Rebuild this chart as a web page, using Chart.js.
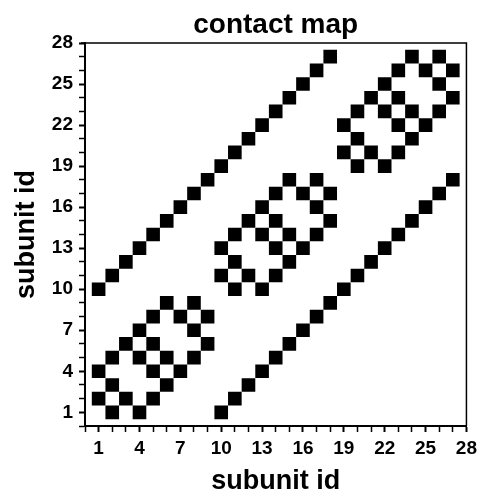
<!DOCTYPE html>
<html>
<head>
<meta charset="utf-8">
<script src="https://cdn.jsdelivr.net/npm/chart.js@4.4.0/dist/chart.umd.min.js"></script>
<style>
  html, body { margin: 0; padding: 0; background: #fff; }
  canvas { display: block; }
</style>
</head>
<body>
<canvas id="contactMap" width="482" height="495"></canvas>
<script>
// contacting subunit pairs (i < j); the map is symmetric so each pair is drawn both ways
const contactI = [
  1, 2, 3, 4, 5, 6, 7, 8, 9, 10, 11, 12, 13, 14, 15, 16, 17, 18,
  1, 1, 2, 2, 3, 4, 4, 5, 5, 6, 7, 8,
  10, 10, 11, 11, 12, 13, 13, 14, 14, 15, 16, 17,
  19, 19, 20, 20, 21, 22, 22, 23, 23, 24, 25, 26
];
const contactJ = [
  10, 11, 12, 13, 14, 15, 16, 17, 18, 19, 20, 21, 22, 23, 24, 25, 26, 27,
  2, 4, 3, 5, 6, 5, 7, 6, 8, 9, 8, 9,
  11, 13, 12, 14, 15, 14, 16, 15, 17, 18, 17, 18,
  20, 22, 21, 23, 24, 23, 25, 24, 26, 27, 26, 27
];
const tickLabels = [1, 4, 7, 10, 13, 16, 19, 22, 25, 28];
const axisMin = 0;
const axisMax = 28;

const FONT = '"Liberation Sans", Arial, Helvetica, sans-serif';
Chart.defaults.font.family = FONT;
Chart.defaults.color = '#000';

const points = [];
contactI.forEach((i, k) => {
  points.push({ x: i, y: contactJ[k] });
  points.push({ x: contactJ[k], y: i });
});

// one cell = one unit on the x scale; rect side = radius * sqrt(2)
const cellRadius = (ctx) => {
  const xs = ctx.chart.scales.x;
  if (!xs) return 9;
  return Math.abs(xs.getPixelForValue(1) - xs.getPixelForValue(0)) / Math.SQRT2;
};

// top/right frame lines and the centred title
const framePlugin = {
  id: 'frame',
  afterDraw(chart) {
    const { ctx, chartArea: a } = chart;
    ctx.save();
    ctx.strokeStyle = '#000';
    ctx.lineWidth = 1.5;
    ctx.beginPath();
    ctx.moveTo(a.left - 4, a.top);
    ctx.lineTo(a.right, a.top);
    ctx.lineTo(a.right, a.bottom);
    ctx.stroke();
    ctx.fillStyle = '#000';
    ctx.font = 'bold 28px ' + FONT;
    ctx.textAlign = 'center';
    ctx.textBaseline = 'alphabetic';
    ctx.fillText('contact map', (a.left + a.right) / 2, 33);
    ctx.restore();
  }
};

const axisOptions = (fitSize, horizontal) => ({
  type: 'linear',
  min: axisMin,
  max: axisMax,
  ticks: {
    stepSize: 1,
    autoSkip: false,
    maxRotation: 0,
    padding: horizontal ? 5 : 6,
    font: { size: 19, weight: 'bold' },
    color: '#000',
    callback: (v) => (tickLabels.includes(v) ? String(v) : '')
  },
  grid: {
    drawOnChartArea: false,
    drawTicks: true,
    tickLength: 6,
    tickColor: '#000',
    tickWidth: (ctx) => (ctx.tick && tickLabels.includes(ctx.tick.value) ? 2 : 1.5)
  },
  border: { color: '#000', width: 2 },
  title: {
    display: true,
    text: 'subunit id',
    color: '#000',
    font: { size: 27, weight: 'bold', lineHeight: 1 },
    padding: horizontal ? 0 : { top: 13, bottom: 0 }
  },
  afterFit: (scale) => {
    if (horizontal) scale.height = fitSize;
    else scale.width = fitSize;
  }
});

new Chart(document.getElementById('contactMap'), {
  type: 'scatter',
  data: {
    datasets: [{
      data: points,
      pointStyle: 'rect',
      pointRadius: cellRadius,
      pointHoverRadius: cellRadius,
      pointBorderWidth: 0,
      backgroundColor: '#000',
      borderColor: '#000'
    }]
  },
  options: {
    responsive: false,
    animation: false,
    layout: { padding: { top: 43, right: 15, bottom: 0, left: 0 } },
    plugins: {
      legend: { display: false },
      title: { display: false },
      tooltip: { enabled: false }
    },
    events: [],
    scales: {
      x: axisOptions(69, true),
      y: axisOptions(85, false)
    }
  },
  plugins: [framePlugin]
});
</script>
</body>
</html>
